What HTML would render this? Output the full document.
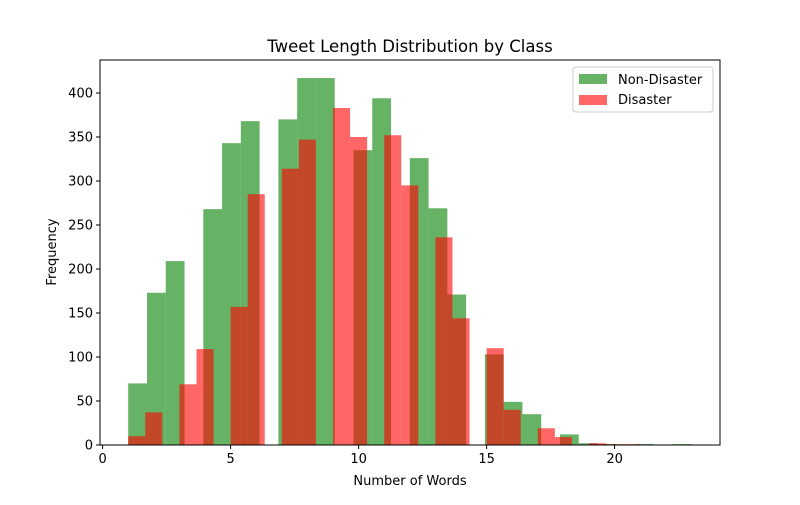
<!DOCTYPE html>
<html><head><meta charset="utf-8"><style>
body{margin:0;background:#fff}
svg text{font-family:"DejaVu Sans","Liberation Sans",sans-serif;fill:#000}
</style></head><body>
<svg id="c" width="800" height="500" xmlns="http://www.w3.org/2000/svg"></svg>
<script>
const nonDisasterCounts=[70,173,209,0,268,343,368,0,370,417,417,0,335,394,0,326,269,171,0,103,49,35,0,12,2,1,0,1,0,1];
const disasterCounts=[10,37,0,69,109,0,157,285,0,314,347,0,383,350,0,352,295,0,236,144,0,110,40,0,19,9,0,2,1,1];
const nonDisasterRange=[1,23];
const disasterRange=[1,21];
const xTicks=[0,5,10,15,20];
const yTicks=[0,50,100,150,200,250,300,350,400];
const L=100,R=720,T=60,B=445;
const X=v=>102.6+v*25.6;
const Y=v=>B-v*0.88;
const NS='http://www.w3.org/2000/svg';
const svg=document.getElementById('c');
function mk(t,a){const e=document.createElementNS(NS,t);for(const k in a)e.setAttribute(k,a[k]);svg.appendChild(e);return e;}
function bars(counts,range,color,name){
  const w=(range[1]-range[0])/counts.length;
  counts.forEach((c,i)=>{
    if(c<=0)return;
    const x0=X(range[0]+i*w),x1=X(range[0]+(i+1)*w);
    const r=mk('rect',{x:x0,y:Y(c),width:x1-x0,height:B-Y(c),fill:color,'fill-opacity':0.6});
    
    
  });
}
bars(nonDisasterCounts,nonDisasterRange,'#008000','non-disaster');
bars(disasterCounts,disasterRange,'#ff0000','disaster');
const fr=mk('rect',{x:L,y:T,width:R-L,height:B-T,fill:'none',stroke:'#000','stroke-width':1});


xTicks.forEach(v=>{
  mk('line',{x1:X(v),x2:X(v),y1:B,y2:B+4,stroke:'#000'});
  const t=mk('text',{x:X(v),y:B+18,'text-anchor':'middle','font-size':13});
  t.textContent=v;
  
  
});
yTicks.forEach(v=>{
  mk('line',{x1:L-4,x2:L,y1:Y(v),y2:Y(v),stroke:'#000'});
  const t=mk('text',{x:L-7,y:Y(v)+4.5,'text-anchor':'end','font-size':13});
  t.textContent=v;
  
  
});
</script>
<svg width="800" height="500" style="position:absolute;left:0;top:0" xmlns="http://www.w3.org/2000/svg">
<text x="410" y="52" text-anchor="middle" font-size="16.5">Tweet Length Distribution by Class</text>
<text x="410" y="485" text-anchor="middle" font-size="13">Number of Words</text>
<text x="56" y="252" text-anchor="middle" font-size="13" transform="rotate(-90 56 252)">Frequency</text>
<g>
<rect x="573" y="67" width="140" height="45" rx="3" fill="#fff" fill-opacity="0.8" stroke="#ccc"/>
<rect x="579" y="74" width="28" height="10" fill="#008000" fill-opacity="0.6"/>
<text x="618" y="84" font-size="13">Non-Disaster</text>
<rect x="579" y="95" width="28" height="10" fill="#ff0000" fill-opacity="0.6"/>
<text x="618" y="104" font-size="13">Disaster</text>
</g>
</svg>
</body></html>
